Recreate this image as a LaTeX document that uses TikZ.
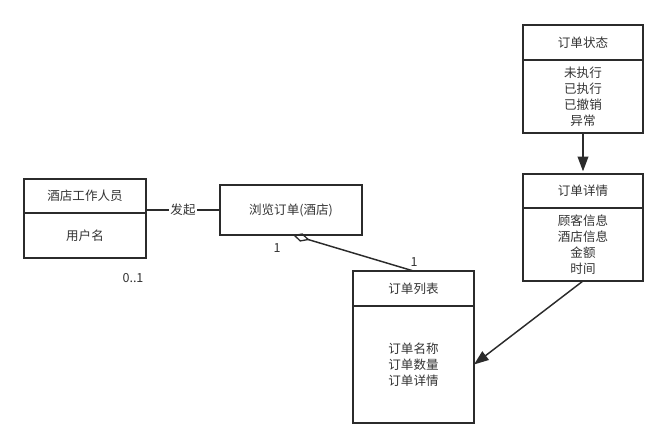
\documentclass[tikz,border=0pt]{standalone}
\usepackage{fontspec}
\setmainfont{Noto Sans CJK SC}
\usetikzlibrary{arrows.meta,positioning}

\definecolor{linegray}{HTML}{2B2B2B}
\definecolor{textgray}{HTML}{333333}

\tikzset{
  umlbox/.style={draw=linegray, line width=1.1pt, outer sep=0pt, inner sep=0pt,
    align=center, text=textgray, font=\fontsize{9.4}{12}\selectfont},
  classhead/.style={umlbox, minimum height=25.5pt},
  classbody/.style={umlbox, below=0pt of #1},
  mult/.style={text=textgray, font=\fontsize{9.4}{12}\selectfont, inner sep=1pt},
  link/.style={draw=linegray, line width=1.1pt}
}

\begin{document}
\begin{tikzpicture}[x=0.75pt, y=-0.75pt]
  \useasboundingbox (0,0) rectangle (669,448);

  % 酒店工作人员
  \node[classhead, anchor=north west, minimum width=91.5pt] (staffhead) at (24,179) {酒店工作人员};
  \node[classbody=staffhead, minimum width=91.5pt, minimum height=33.75pt] (staffbody) {用户名};

  % 浏览订单
  \node[umlbox, anchor=north west, minimum width=106.5pt, minimum height=37.5pt] (browse) at (220,185) {浏览订单(酒店)};

  % 订单列表
  \node[classhead, anchor=north west, minimum width=90.75pt, minimum height=26.25pt] (listhead) at (353,271) {订单列表};
  \node[classbody=listhead, minimum width=90.75pt, minimum height=87.75pt] (listbody) {订单名称\\订单数量\\订单详情};

  % 订单状态
  \node[classhead, anchor=north west, minimum width=90pt, minimum height=26.25pt] (statushead) at (523,25) {订单状态};
  \node[classbody=statushead, minimum width=90pt, minimum height=54.75pt] (statusbody) {未执行\\已执行\\已撤销\\异常};

  % 订单详情
  \node[classhead, anchor=north west, minimum width=90pt] (detailhead) at (523,174) {订单详情};
  \node[classbody=detailhead, minimum width=90pt, minimum height=54.75pt] (detailbody) {顾客信息\\酒店信息\\金额\\时间};

  % 多重性
  \node[mult] (multbrowse) at (277,248) {1};
  \node[mult] (multlist) at (414,262) {1};
  \node[mult] (multstaff) at (133,278) {0..1};

  % 连线
  \draw[link] (browse.west) -- (browse.west -| staffbody.east)
    node[midway, fill=white, text=textgray, inner sep=1pt, font=\fontsize{9.4}{12}\selectfont] (start) {发起};
  \draw[link, {Diamond[open, length=13pt, width=6.5pt, line width=1pt]}-] ([xshift=1.5pt]browse.south) -- (listhead.north);
  \draw[link, -{Triangle[length=11pt, width=8pt]}] (statusbody.south) -- ([yshift=2pt]detailhead.north);
  \draw[link, -{Triangle[length=11pt, width=8pt]}] (detailbody.south) -- (listbody.east);
\end{tikzpicture}
\end{document}
